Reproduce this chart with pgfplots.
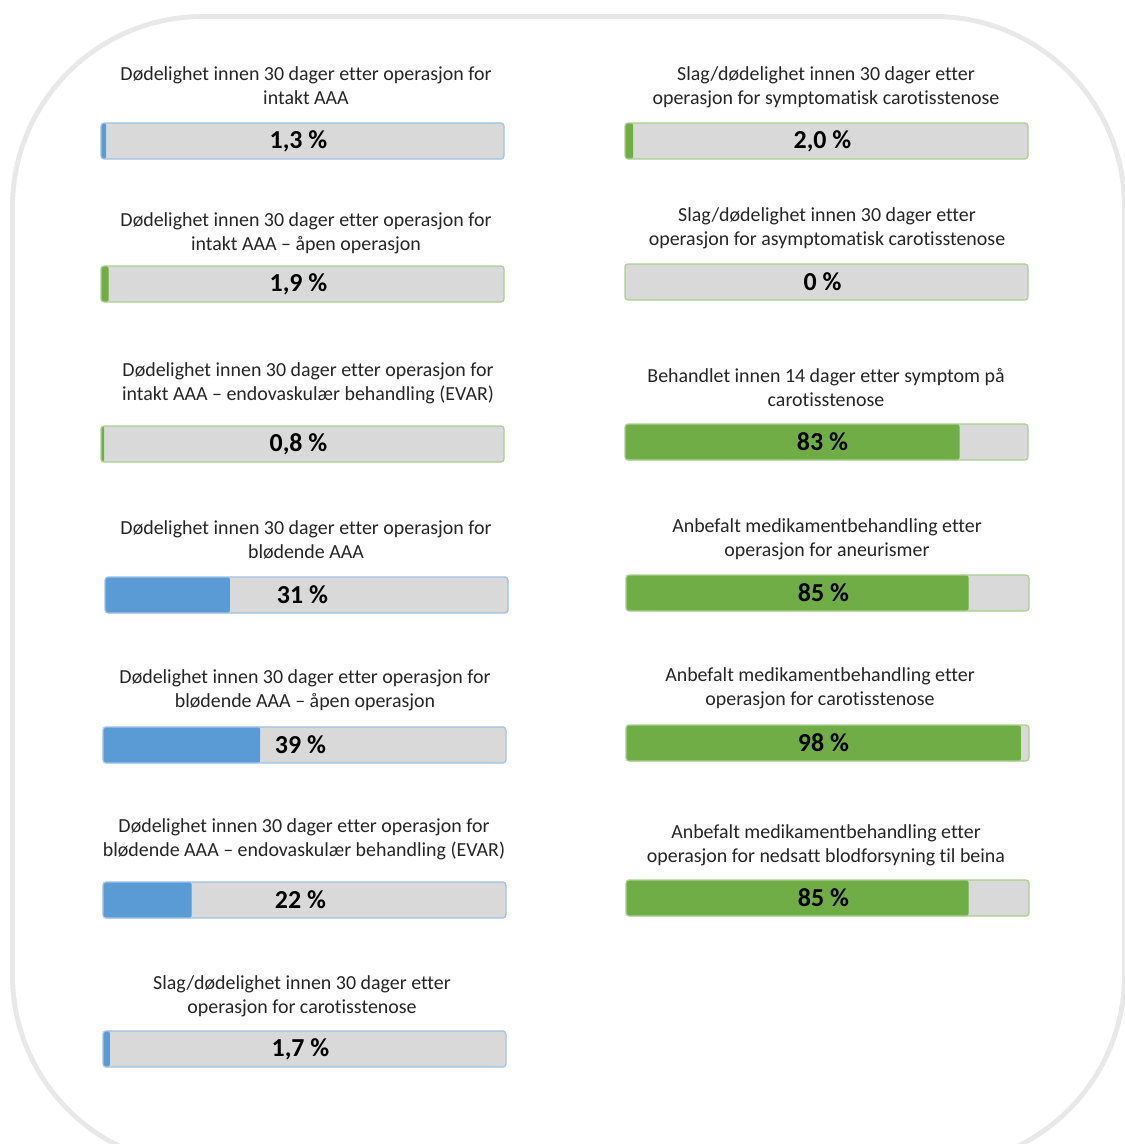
\documentclass[border=0pt]{standalone}
\usepackage{pgfplots}
\pgfplotsset{compat=1.18}
\usepackage{fontspec}
\setmainfont{Carlito}[Ligatures=NoCommon]

\definecolor{barblue}{HTML}{5B9BD5}
\definecolor{bargreen}{HTML}{70AD47}
\definecolor{edgeblue}{HTML}{9DC3E6}
\definecolor{edgegreen}{HTML}{A9D18E}
\definecolor{track}{HTML}{D9D9D9}
\definecolor{ink}{HTML}{262626}

% #1 x left, #2 y top (px), #3 value, #4 fill colour, #5 edge colour,
% #6 label, #7 title, #8 title centre x, #9 title first line y
\newcommand{\progress}[9]{%
  \node[align=center, font=\fontsize{20}{24}\selectfont, text=ink, anchor=north]
    at (#8bp,-#9bp+11bp) {#7};
  \begin{axis}[at={(#1bp,-#2bp)}, anchor=north west,
      width=403bp, height=36bp, scale only axis,
      xmin=0, xmax=100, ymin=-0.5, ymax=0.5,
      hide axis, clip=false]
    \fill[track, rounded corners=3bp] (axis cs:0,-0.5) rectangle (axis cs:100,0.5);
    \addplot[xbar, fill=#4, draw=none, bar width=36bp, rounded corners=2.5bp]
      coordinates {(#3,0)};
    \draw[#5, line width=1.2bp, rounded corners=3bp] (axis cs:0,-0.5) rectangle (axis cs:100,0.5);
    \node[font=\fontsize{26}{29}\bfseries, text=black] at (axis cs:49,0) {#6};
  \end{axis}}

\begin{document}
\begin{tikzpicture}
\path[use as bounding box] (0,0) rectangle (1125bp,-1144bp);
\begin{scope}
  \clip (0,0) rectangle (1125bp,-1144bp);
  \draw[black!9, line width=6bp, rounded corners=190bp] (13bp,-17bp) rectangle (1124bp,-1165bp);
  \fill[white, rounded corners=188bp] (15bp,-19bp) rectangle (1122bp,-1163bp);
\end{scope}

% left column
\progress{101}{123}{1.3}{barblue}{edgeblue}{1,3 \%}{Dødelighet innen 30 dager etter operasjon for\\intakt AAA}{306}{74}
\progress{101}{266}{1.9}{bargreen}{edgegreen}{1,9 \%}{Dødelighet innen 30 dager etter operasjon for\\intakt AAA – åpen operasjon}{306}{220}
\progress{101}{426}{0.8}{bargreen}{edgegreen}{0,8 \%}{Dødelighet innen 30 dager etter operasjon for\\intakt AAA – endovaskulær behandling (EVAR)}{308}{370}
\progress{105}{577}{31}{barblue}{edgeblue}{31 \%}{Dødelighet innen 30 dager etter operasjon for\\blødende AAA}{306}{528}
\progress{103}{727}{39}{barblue}{edgeblue}{39 \%}{Dødelighet innen 30 dager etter operasjon for\\blødende AAA – åpen operasjon}{305}{677}
\progress{103}{882}{22}{barblue}{edgeblue}{22 \%}{Dødelighet innen 30 dager etter operasjon for\\blødende AAA – endovaskulær behandling (EVAR)}{304}{826}
\progress{103}{1031}{1.7}{barblue}{edgeblue}{1,7 \%}{Slag/dødelighet innen 30 dager etter\\operasjon for carotisstenose}{302}{983}

% right column
\progress{625}{123}{2.0}{bargreen}{edgegreen}{2,0 \%}{Slag/dødelighet innen 30 dager etter\\operasjon for symptomatisk carotisstenose}{826}{74}
\progress{625}{264}{0}{bargreen}{edgegreen}{0 \%}{Slag/dødelighet innen 30 dager etter\\operasjon for asymptomatisk carotisstenose}{827}{215}
\progress{625}{424}{83}{bargreen}{edgegreen}{83 \%}{Behandlet innen 14 dager etter symptom på\\carotisstenose}{826}{376}
\progress{626}{575}{85}{bargreen}{edgegreen}{85 \%}{Anbefalt medikamentbehandling etter\\operasjon for aneurismer}{827}{526}
\progress{626}{725}{98}{bargreen}{edgegreen}{98 \%}{Anbefalt medikamentbehandling etter\\operasjon for carotisstenose}{820}{675}
\progress{626}{880}{85}{bargreen}{edgegreen}{85 \%}{Anbefalt medikamentbehandling etter\\operasjon for nedsatt blodforsyning til beina}{826}{832}
\end{tikzpicture}
\end{document}
